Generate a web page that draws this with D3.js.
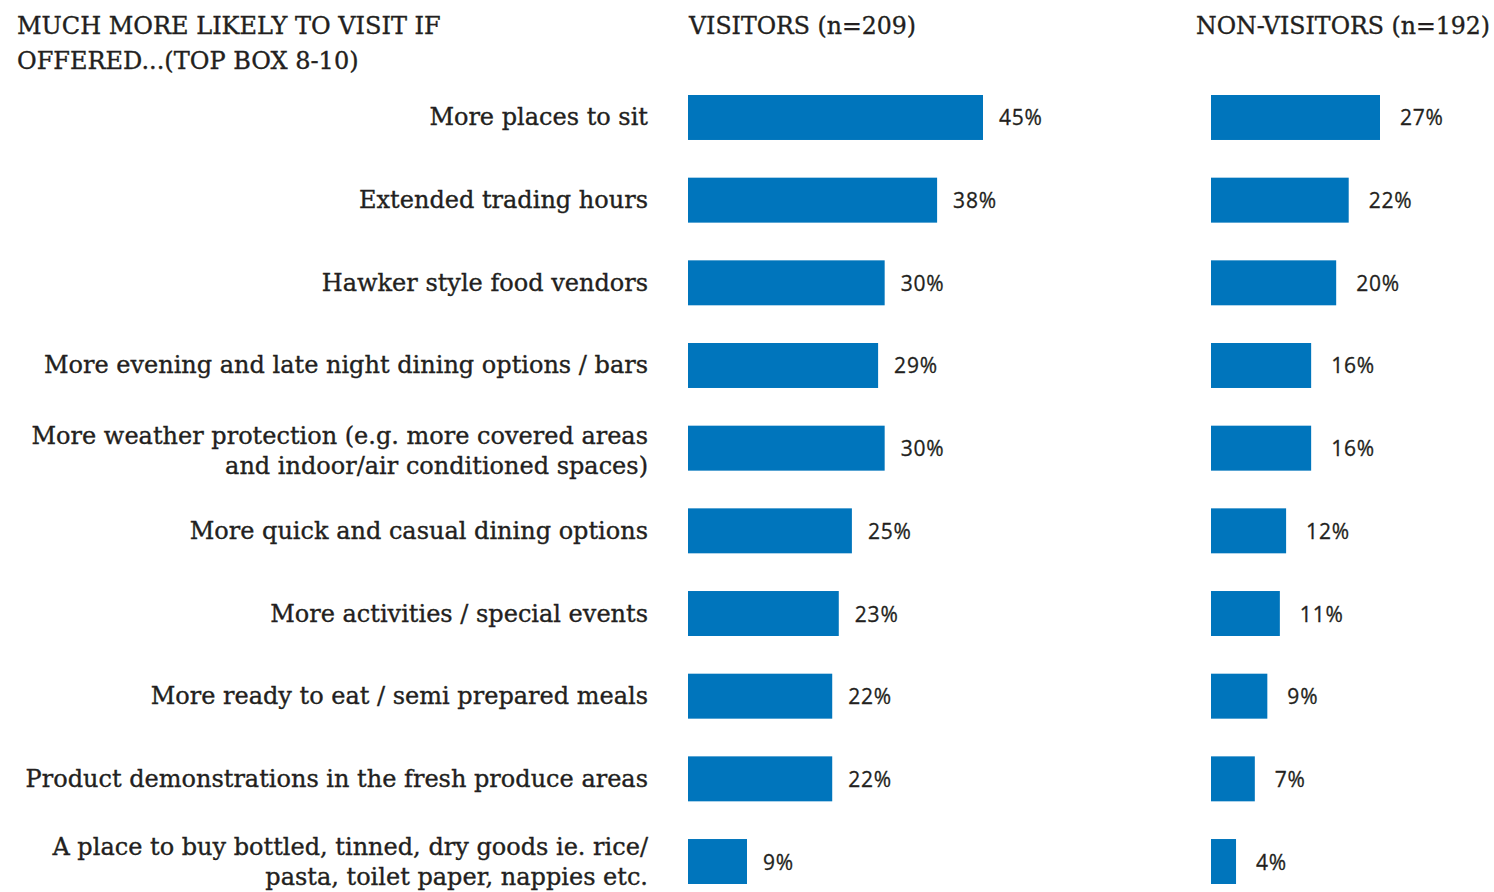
<!DOCTYPE html>
<html>
<head>
<meta charset="utf-8">
<script src="https://cdn.jsdelivr.net/npm/d3@7"></script>
<style>
  html, body { margin: 0; padding: 0; background: #ffffff; }
  svg { display: block; }
</style>
</head>
<body>
<svg id="chart" width="1494" height="892"></svg>
<script>
// Survey: attributes that would make respondents much more likely to visit
const categories = [
  "More places to sit",
  "Extended trading hours",
  "Hawker style food vendors",
  "More evening and late night dining options / bars",
  "More weather protection (e.g. more covered areas\nand indoor/air conditioned spaces)",
  "More quick and casual dining options",
  "More activities / special  events",
  "More ready to eat / semi prepared meals",
  "Product demonstrations in the fresh produce areas",
  "A place to buy bottled, tinned, dry goods ie. rice/\npasta, toilet paper, nappies etc."
];
const visitors = [45, 38, 30, 29, 30, 25, 23, 22, 22, 9];
const nonVisitors = [27, 22, 20, 16, 16, 12, 11, 9, 7, 4];
const titleLines = ["MUCH MORE LIKELY TO VISIT IF", "OFFERED...(TOP BOX 8-10)"];
const visitorsHeader = "VISITORS (n=209)";
const nonVisitorsHeader = "NON-VISITORS (n=192)";

const ink = "#231f20";
const barColor = "#0075bc";
const serif = "'DejaVu Serif', serif";
const sans = "'Open Sans', 'Noto Sans', sans-serif";

const svg = d3.select("#chart");

const y = d3.scaleBand()
  .domain(d3.range(categories.length))
  .range([95, 884])
  .paddingInner(0.456)
  .paddingOuter(0);

const xVis = d3.scaleLinear().domain([0, 45]).range([688, 983]);
const xNon = d3.scaleLinear().domain([0, 27]).range([1211, 1380]);

// Shrink a text element horizontally if it is wider than the room it has
function fit(sel, maxW) {
  sel.each(function () {
    const w = this.getComputedTextLength();
    if (w > maxW) {
      d3.select(this).attr("textLength", maxW).attr("lengthAdjust", "spacingAndGlyphs");
    }
  });
}

// Slightly heavier serif text
function serifText(sel, size) {
  sel.attr("fill", ink)
    .attr("stroke", ink)
    .attr("stroke-width", 0.35)
    .attr("font-family", serif)
    .attr("font-size", size);
}

// Title block
svg.append("g").selectAll("text")
  .data(titleLines)
  .join("text")
  .attr("x", 17)
  .attr("y", (d, i) => 34 + i * 35)
  .call(serifText, 24)
  .text(d => d)
  .call(fit, 426);

svg.append("text")
  .attr("x", 689).attr("y", 34)
  .call(serifText, 24)
  .text(visitorsHeader)
  .call(fit, 227);

svg.append("text")
  .attr("x", 1490).attr("y", 34)
  .attr("text-anchor", "end")
  .call(serifText, 24)
  .text(nonVisitorsHeader)
  .call(fit, 294);

// Category labels, right aligned against the bars
const labels = svg.append("g").selectAll("text")
  .data(categories)
  .join("text")
  .call(serifText, 24)
  .attr("text-anchor", "end");

labels.each(function (d, i) {
  const lines = d.split("\n");
  const cy = y(i) + y.bandwidth() / 2;
  const lh = 30;
  const nudge = (lines.length > 1 && i < categories.length - 1) ? 3 : 0;
  const top = cy - (lines.length - 1) * lh / 2 + nudge;
  d3.select(this).selectAll("tspan")
    .data(lines)
    .join("tspan")
    .attr("x", 648)
    .attr("y", (l, k) => top + k * lh + 8)
    .text(l => l);
});

// Bars and value labels for each group
function panel(values, x, gap) {
  const g = svg.append("g");
  g.selectAll("rect")
    .data(values)
    .join("rect")
    .attr("x", x(0))
    .attr("y", (d, i) => y(i))
    .attr("width", d => x(d) - x(0))
    .attr("height", y.bandwidth())
    .attr("fill", barColor);
  g.selectAll("text")
    .data(values)
    .join("text")
    .attr("x", d => x(d) + gap)
    .attr("y", (d, i) => y(i) + y.bandwidth() / 2 + 8)
    .attr("fill", ink)
    .attr("stroke", ink)
    .attr("stroke-width", 0.3)
    .attr("font-family", sans)
    .attr("font-size", 21)
    .attr("letter-spacing", 0.8)
    .text(d => d + "%");
}
panel(visitors, xVis, 16);
panel(nonVisitors, xNon, 20);
</script>
</body>
</html>
